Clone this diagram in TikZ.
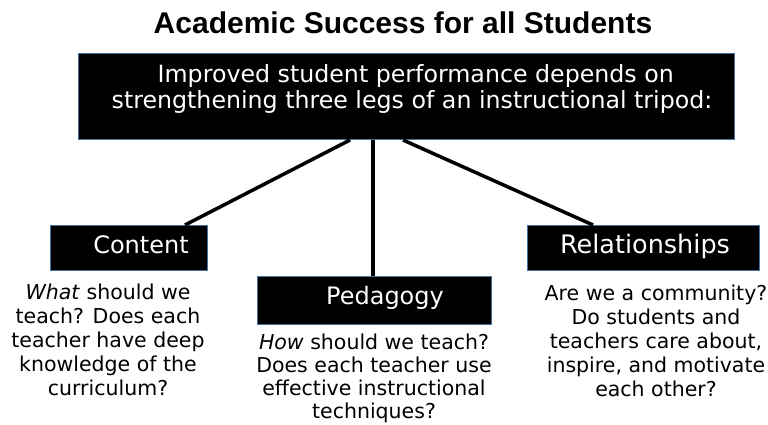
\documentclass[tikz,border=0pt]{standalone}
\usepackage{fontspec}
\setmainfont{DejaVu Sans}
\newfontfamily\titlefont{Liberation Sans}
\definecolor{edgeblue}{HTML}{41719C}
\begin{document}
\begin{tikzpicture}[x=1pt,y=-1pt,
  blackbox/.style={draw=edgeblue,line width=1pt,fill=black,inner sep=0pt,anchor=north west},
  boxtext/.style={text=white,font=\fontsize{24}{26}\selectfont,inner sep=0pt},
  desc/.style={align=center,font=\fontsize{20.5}{24}\selectfont,inner sep=0pt,anchor=north},
  leg/.style={line width=3.5pt}]
\useasboundingbox (0,0) rectangle (768,425);
\node[font=\titlefont\bfseries\fontsize{30}{32}\selectfont,inner sep=0pt] (title) at (403,23) {Academic Success for all Students};
\node[blackbox,minimum width=656pt,minimum height=86pt] (top) at (78,53) {};
\node[boxtext,align=center,font=\fontsize{23.7}{26}\selectfont] (toptext) at (412,89) {\ Improved student performance depends on\\strengthening three legs of an instructional tripod:};
\node[blackbox,minimum width=157pt,minimum height=45pt] (content) at (50,225) {};
\node[boxtext] (contentt) at (141,245) {Content};
\node[blackbox,minimum width=234pt,minimum height=48pt] (peda) at (257,276) {};
\node[boxtext] (pedat) at (385,298) {Pedagogy};
\node[blackbox,minimum width=232pt,minimum height=45pt] (rel) at (527,225) {};
\node[boxtext,font=\fontsize{25.5}{27}\selectfont] (relt) at (645,246) {Relationships};
\draw[leg] (top.south -| 350,0) -- (content.north -| 185,0);
\draw[leg] (top.south -| 373,0) -- (peda.north -| 373,0);
\draw[leg] (top.south -| 403,0) -- (rel.north -| 593,0);
\node[desc] (cdesc) at (108,284) {\textit{What} should we\\teach? Does each\\teacher have deep\\knowledge of the\\curriculum?};
\node[desc,font=\fontsize{20.5}{23}\selectfont] (pdesc) at (374,334) {\textit{How} should we teach?\\Does each teacher use\\effective instructional\\techniques?};
\node[desc] (rdesc) at (656,285) {Are we a community?\\Do students and\\teachers care about,\\inspire, and motivate\\each other?};
\end{tikzpicture}
\end{document}
